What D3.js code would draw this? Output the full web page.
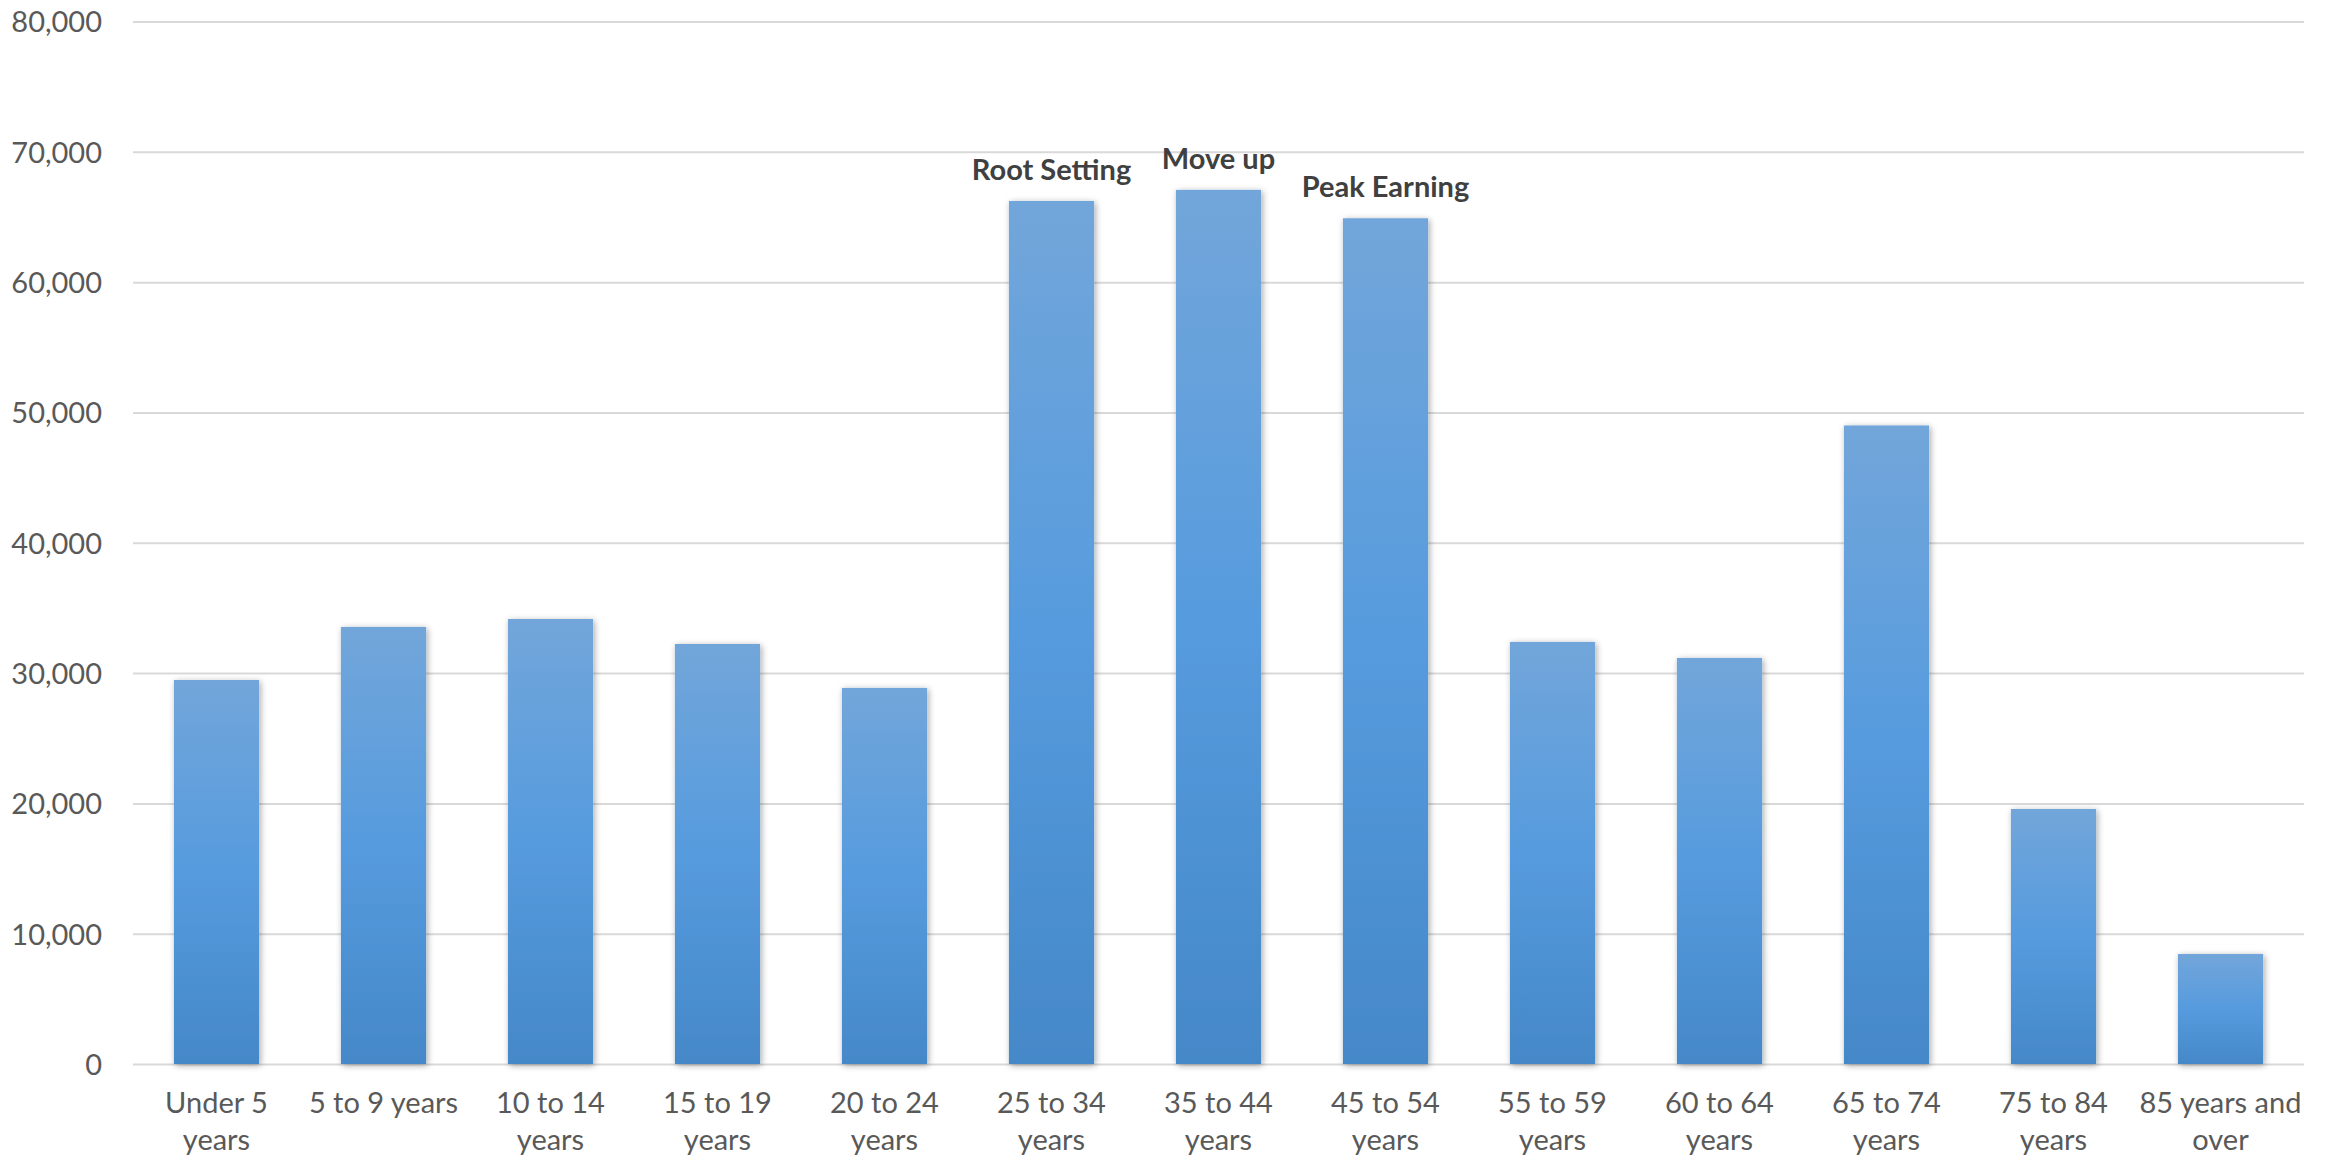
<!DOCTYPE html>
<html>
<head>
<meta charset="utf-8">
<script src="https://cdn.jsdelivr.net/npm/d3@7"></script>
<style>
  html, body { margin: 0; padding: 0; background: #ffffff; }
  svg { display: block; }
  text { font-family: Lato, "Open Sans", sans-serif; }
</style>
</head>
<body>
<svg id="chart" width="2333" height="1162"></svg>
<script>
// Population by age group
const categories = [
  "Under 5 years", "5 to 9 years", "10 to 14 years", "15 to 19 years",
  "20 to 24 years", "25 to 34 years", "35 to 44 years", "45 to 54 years",
  "55 to 59 years", "60 to 64 years", "65 to 74 years", "75 to 84 years",
  "85 years and over"
];
const population = [
  29470, 33540, 34150, 32230, 28860, 66230, 67080, 64900,
  32390, 31160, 49000, 19570, 8440
];
// Life-stage callouts over selected bars
const stageLabels = ["", "", "", "", "", "Root Setting", "Move up", "Peak Earning", "", "", "", "", ""];
const yTicks = [0, 10000, 20000, 30000, 40000, 50000, 60000, 70000, 80000];

const svg = d3.select("#chart");
const margin = { left: 133, right: 29, top: 21.5, bottom: 98 };
const W = 2333, H = 1162;

const x = d3.scaleBand()
  .domain(categories)
  .range([margin.left, W - margin.right])
  .paddingInner(0.49)
  .paddingOuter(0.245);

const y = d3.scaleLinear()
  .domain([0, 80000])
  .range([H - margin.bottom, margin.top]);

const defs = svg.append("defs");
const grad = defs.append("linearGradient")
  .attr("id", "barFill")
  .attr("x1", 0).attr("y1", 0).attr("x2", 0).attr("y2", 1);
grad.append("stop").attr("offset", "0%").attr("stop-color", "#72a6da");
grad.append("stop").attr("offset", "50%").attr("stop-color", "#569bde");
grad.append("stop").attr("offset", "100%").attr("stop-color", "#4588c8");

const shadow = defs.append("filter")
  .attr("id", "barShadow")
  .attr("x", "-30%").attr("y", "-10%").attr("width", "160%").attr("height", "120%");
shadow.append("feDropShadow")
  .attr("dx", 1.5).attr("dy", 1.5).attr("stdDeviation", 3)
  .attr("flood-color", "#000").attr("flood-opacity", 0.35);

// Horizontal gridlines and value labels
const yAxis = d3.axisLeft(y)
  .tickValues(yTicks)
  .tickSize(-(W - margin.left - margin.right))
  .tickPadding(31)
  .tickFormat(d3.format(","));

const gy = svg.append("g")
  .attr("transform", `translate(${margin.left},0)`)
  .call(yAxis);
gy.select(".domain").remove();
gy.selectAll(".tick line")
  .attr("stroke", "#d9d9d9")
  .attr("stroke-width", 2);
gy.selectAll(".tick text")
  .attr("fill", "#595959")
  .attr("font-size", 29)
  .attr("dy", "0.36em");

// Bars
svg.append("g")
  .selectAll("rect")
  .data(population)
  .join("rect")
  .attr("x", (d, i) => x(categories[i]))
  .attr("y", d => y(d))
  .attr("width", x.bandwidth())
  .attr("height", d => y(0) - y(d))
  .attr("fill", "url(#barFill)")
  .attr("filter", "url(#barShadow)");

// Callout labels above bars
svg.append("g")
  .selectAll("text")
  .data(population)
  .join("text")
  .attr("x", (d, i) => x(categories[i]) + x.bandwidth() / 2)
  .attr("y", d => y(d) - 21)
  .attr("text-anchor", "middle")
  .attr("font-size", 29)
  .attr("font-weight", "bold")
  .attr("fill", "#404040")
  .text((d, i) => stageLabels[i]);

// Category labels, wrapped to the band step
const xAxis = svg.append("g");
const maxLineWidth = x.step() + 2;
categories.forEach(cat => {
  const t = xAxis.append("text")
    .attr("x", x(cat) + x.bandwidth() / 2)
    .attr("y", y(0) + 49)
    .attr("text-anchor", "middle")
    .attr("font-size", 29)
    .attr("fill", "#595959");
  const words = cat.split(" ");
  let lines = [];
  let line = [];
  const probe = t.append("tspan");
  words.forEach(w => {
    const trial = line.concat([w]).join(" ");
    probe.text(trial);
    if (probe.node().getComputedTextLength() > maxLineWidth && line.length) {
      lines.push(line.join(" "));
      line = [w];
    } else {
      line.push(w);
    }
  });
  lines.push(line.join(" "));
  probe.remove();
  lines.forEach((l, k) => {
    t.append("tspan")
      .attr("x", x(cat) + x.bandwidth() / 2)
      .attr("dy", k === 0 ? 0 : 37)
      .text(l);
  });
});
</script>
</body>
</html>
